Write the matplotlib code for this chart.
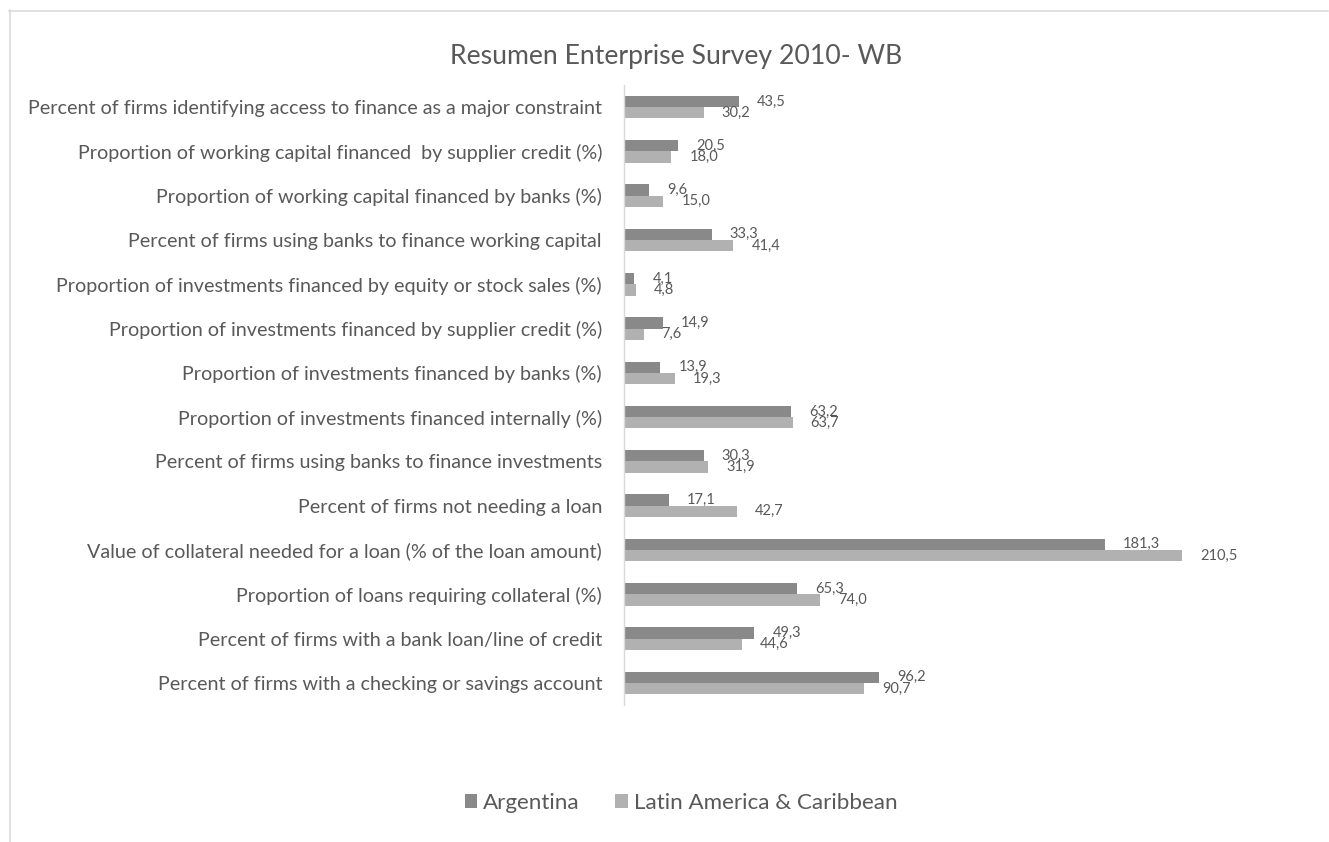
import matplotlib
matplotlib.use("Agg")
import matplotlib.pyplot as plt
from matplotlib.lines import Line2D
from matplotlib.textpath import TextPath
from matplotlib.font_manager import FontProperties
import numpy as np

categories = [
    "Percent of firms identifying access to finance as a major constraint",
    "Proportion of working capital financed  by supplier credit (%)",
    "Proportion of working capital financed by banks (%)",
    "Percent of firms using banks to finance working capital",
    "Proportion of investments financed by equity or stock sales (%)",
    "Proportion of investments financed by supplier credit (%)",
    "Proportion of investments financed by banks (%)",
    "Proportion of investments financed internally (%)",
    "Percent of firms using banks to finance investments",
    "Percent of firms not needing a loan",
    "Value of collateral needed for a loan (% of the loan amount)",
    "Proportion of loans requiring collateral (%)",
    "Percent of firms with a bank loan/line of credit",
    "Percent of firms with a checking or savings account",
]
argentina = [43.5, 20.5, 9.6, 33.3, 4.1, 14.9, 13.9, 63.2, 30.3, 17.1, 181.3, 65.3, 49.3, 96.2]
lac = [30.2, 18.0, 15.0, 41.4, 4.8, 7.6, 19.3, 63.7, 31.9, 42.7, 210.5, 74.0, 44.6, 90.7]
series_names = ["Argentina", "Latin America & Caribbean"]
title = "Resumen Enterprise Survey 2010- WB"

FAMILY = "Lato"
DPI = 100
W, H = 1329, 842
TEXT = "#595959"
C_DARK = "#898989"
C_LIGHT = "#b1b1b1"
GRID = "#d9d9d9"


def fit_size(s, target_px):
    w1 = TextPath((0, 0), s, size=1, prop=FontProperties(family=FAMILY)).get_extents().width
    return target_px * 72.0 / DPI / w1


fs_cat = fit_size(categories[0], 572)
fs_title = fit_size(title, 448)
fs_lab = fit_size("210,5", 35.7)
fs_leg = fit_size(series_names[1], 259)

plt.rcParams["font.family"] = [FAMILY, "DejaVu Sans"]

fig = plt.figure(figsize=(W / DPI, H / DPI), dpi=DPI)
fig.patch.set_facecolor("white")


def fx(px):
    return px / W


def fy(py):
    return (H - py) / H


# chart border (top and left)
fig.add_artist(Line2D([fx(9), fx(1328)], [fy(10.5), fy(10.5)], color=GRID, lw=1.1, transform=fig.transFigure))
fig.add_artist(Line2D([fx(10), fx(10)], [fy(10), fy(842)], color=GRID, lw=1.1, transform=fig.transFigure))

ax_left, ax_right, ax_top, ax_bottom = 623.5, 1287, 85, 705
ax = fig.add_axes([fx(ax_left), fy(ax_bottom), fx(ax_right - ax_left), (ax_bottom - ax_top) / H])

n = len(categories)
y = np.arange(n)
h = 0.255
b1 = ax.barh(y - h / 2, argentina, height=h, color=C_DARK, label=series_names[0])
b2 = ax.barh(y + h / 2, lac, height=h, color=C_LIGHT, label=series_names[1])

ax.set_xlim(0, 250)
ax.set_ylim(n - 0.5, -0.5)
ax.set_yticks(y)
ax.set_yticklabels(categories, fontsize=fs_cat, color=TEXT)
ax.tick_params(axis="y", length=0, pad=21.5 * 72 / DPI)
ax.set_xticks([])
for s in ["top", "right", "bottom"]:
    ax.spines[s].set_visible(False)
ax.spines["left"].set_color(GRID)
ax.spines["left"].set_linewidth(1.0)

off = 18 * 72 / DPI
for bars, vals in ((b1, argentina), (b2, lac)):
    for rect, v in zip(bars, vals):
        ax.annotate(f"{v:.1f}".replace(".", ","),
                    xy=(rect.get_width(), rect.get_y() + rect.get_height() / 2),
                    xytext=(off, 0), textcoords="offset points",
                    va="center", ha="left", fontsize=fs_lab, color=TEXT)

fig.text(fx(676), fy(64), title, ha="center", va="baseline", fontsize=fs_title, color=TEXT)

fs_leg_px = fs_leg * DPI / 72
sq = 12.5
leg = fig.legend(handles=[b1, b2], labels=series_names, loc="center",
                 bbox_to_anchor=(fx(681), fy(803)), ncol=2, frameon=False,
                 fontsize=fs_leg, handlelength=sq / fs_leg_px, handleheight=sq / fs_leg_px,
                 handletextpad=5.7 / fs_leg_px, columnspacing=35.7 / fs_leg_px,
                 borderpad=0, borderaxespad=0)
for t in leg.get_texts():
    t.set_color(TEXT)

fig.savefig("out.png", dpi=DPI, facecolor="white")
